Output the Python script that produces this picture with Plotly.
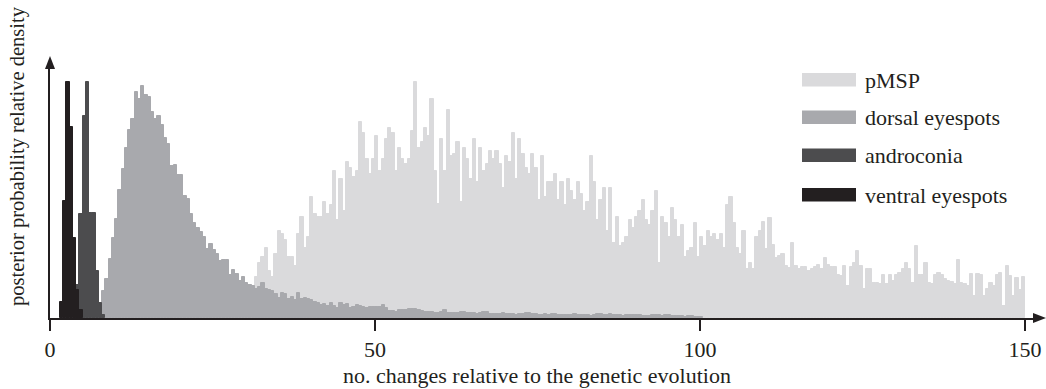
import plotly.graph_objects as go

# ---------------- data (relative density per 0.5-wide bin) ----------------
bin_width = 0.5

ventral_start = 1.5
ventral_density = [16, 117, 236, 191, 80, 28, 8]

androconia_start = 4.0
androconia_density = [33, 104, 202, 236, 105, 105, 47, 15, 3]

dorsal_start = 8.0
dorsal_density = [
    27, 39, 59, 80, 99, 128, 149, 170, 188, 199, 226, 219, 232, 223, 221, 206,
    199, 202, 193, 180, 174, 152, 153, 143, 143, 122, 119, 104, 95, 90, 86, 81,
    69, 74, 68, 64, 57, 58, 58, 43, 48, 44, 37, 41, 35, 33, 32,
    29, 31, 35, 29, 28, 27, 24, 20, 25, 24, 19, 21, 18, 25, 19, 20, 19, 18, 16,
    15, 13, 14, 12, 15, 12, 10, 15, 13, 14, 10, 11, 13, 12, 11, 10, 11, 11,
    11, 11, 13, 10, 7, 7, 6, 8, 8, 8, 9, 9, 9, 8, 7, 6, 6, 6, 5, 5, 6, 8, 5, 5,
    5, 5, 6, 6, 5, 5, 5, 4, 5, 6, 6, 4, 4, 4,
    4, 5, 4, 4, 4, 3, 4, 4, 5, 5, 4, 4, 3, 3, 4, 3, 4, 4, 3, 3, 3, 3, 3, 4, 3,
    3, 3, 3, 2, 3, 4, 4, 3, 3, 4, 3, 3, 3, 2, 3,
    3, 3, 3, 3, 2, 2, 2, 3, 3, 3, 2, 3, 3, 2, 2, 2, 2, 1, 2, 2, 1, 1, 1,
]

pmsp_start = 31.5
pmsp_density = [
    41, 55, 61, 70, 47, 41, 64, 87, 84, 78, 61, 61, 52, 84, 101, 70, 81, 121,
    104, 101, 101, 116, 104, 113, 147, 98, 139, 107, 156, 150, 141, 147, 196,
    185, 159, 144, 159, 182,
    147, 159, 179, 190, 185, 147, 170, 159, 154, 159, 187, 236, 170, 176, 190,
    182, 219, 147, 114, 179, 147, 208, 162, 164, 176, 116, 170, 159, 139, 179,
    136, 170, 147, 154, 167, 159, 167, 154, 130,
    162, 156, 185, 139, 179, 164, 150, 144, 164, 150, 118, 162, 121, 136, 136,
    144, 118, 136, 113, 139, 127, 118, 136, 124, 107, 116, 162, 136, 98, 118,
    130, 87, 130, 75, 101, 72, 75, 81,
    98, 90, 101, 107, 118, 98, 93, 107, 127, 55, 101, 95, 81, 110, 98, 81, 93,
    61, 67, 70, 95, 61, 81, 72, 87, 81, 84, 78, 84, 70, 113, 121, 95, 70, 64,
    87, 49, 55, 49,
    81, 87, 96, 69, 100, 73, 60, 62, 64, 52, 50, 75, 52, 49, 51, 51, 47, 49, 51,
    53, 49, 60, 53, 51, 51, 43, 42, 52, 32, 51, 55, 67, 52, 29, 49, 49, 35, 35,
    34, 43,
    34, 43, 37, 43, 45, 49, 55, 49, 35, 72, 43, 43, 55, 35, 34, 43, 45, 43, 39,
    37, 36, 34, 58, 35, 34, 32, 44, 22, 44, 43, 22, 29, 35, 32, 43, 45, 12, 52,
    42, 22, 40, 28, 41,
]

series_names = ["pMSP", "dorsal eyespots", "androconia", "ventral eyespots"]
x_ticks = [0, 50, 100, 150]
x_tick_labels = ["0", "50", "100", "150"]
x_title = "no. changes relative to the genetic evolution"
y_title = "posterior probability relative density"

# ---------------- styling ----------------
colors = ["#dadadc", "#a8a9ad", "#4c4c4e", "#231f20"]
ink = "#231f20"
FONT = "Liberation Serif, Times New Roman, serif"
FS = 22

W, H = 1046, 389
L, R, T, B = 50, 10, 64, 71
PW, PH = W - L - R, H - T - B
PX_PER_UNIT = 6.5
x_max = PW / PX_PER_UNIT
y_max = PH  # one density unit per pixel


def px(xp):
    return (xp - L) / PW


def py(yp):
    return (H - B - yp) / PH


def centers(start, values):
    return [start + bin_width * (k + 0.5) for k in range(len(values))]


series = [
    (pmsp_start, pmsp_density),
    (dorsal_start, dorsal_density),
    (androconia_start, androconia_density),
    (ventral_start, ventral_density),
]

fig = go.Figure()
for name, (start, vals), col in zip(series_names, series, colors):
    fig.add_trace(go.Bar(
        x=centers(start, vals), y=vals, width=bin_width, name=name,
        marker=dict(color=col, line=dict(color=col, width=1.0)),
        showlegend=False, hoverinfo="x+y+name",
    ))

shapes = []
annotations = []

# custom legend
leg_x0, leg_x1, leg_tx = 802, 856, 863
leg_y = [73, 110.5, 148.5, 188]
for name, col, y0 in zip(series_names, colors, leg_y):
    shapes.append(dict(type="rect", xref="paper", yref="paper",
                       x0=px(leg_x0), x1=px(leg_x1), y0=py(y0 + 13.5), y1=py(y0),
                       fillcolor=col, line=dict(width=0)))
    annotations.append(dict(xref="paper", yref="paper", x=px(leg_tx), y=py(y0 + 7),
                            text=name, showarrow=False, xanchor="left", yanchor="middle",
                            font=dict(family=FONT, size=FS, color=ink)))

# axis arrowheads
shapes.append(dict(type="path", xref="paper", yref="paper",
                   path=f"M {px(1033)},{py(313)} L {px(1046)},{py(318)} L {px(1033)},{py(323)} Z",
                   fillcolor=ink, line=dict(width=0)))
shapes.append(dict(type="path", xref="paper", yref="paper",
                   path=f"M {px(45)},{py(69)} L {px(50)},{py(56)} L {px(55)},{py(69)} Z",
                   fillcolor=ink, line=dict(width=0)))

# axis titles
annotations.append(dict(xref="paper", yref="paper", x=px(537), y=py(375), text=x_title,
                        showarrow=False, xanchor="center", yanchor="middle",
                        font=dict(family=FONT, size=FS, color=ink)))
annotations.append(dict(xref="paper", yref="paper", x=px(17), y=py(156), text=y_title,
                        showarrow=False, xanchor="center", yanchor="middle", textangle=-90,
                        font=dict(family=FONT, size=20.5, color=ink)))

fig.update_layout(
    width=W, height=H, autosize=False,
    margin=dict(l=L, r=R, t=T, b=B, pad=0),
    paper_bgcolor="white", plot_bgcolor="white",
    barmode="overlay", bargap=0,
    shapes=shapes, annotations=annotations,
    xaxis=dict(range=[0, x_max], showgrid=False, zeroline=False, automargin=False,
               showline=True, linecolor=ink, linewidth=2,
               ticks="outside", ticklen=11, tickwidth=1.5, tickcolor=ink,
               tickvals=x_ticks, ticktext=x_tick_labels,
               tickfont=dict(family=FONT, size=FS, color=ink)),
    yaxis=dict(range=[0, y_max], showgrid=False, zeroline=False, automargin=False,
               showline=True, linecolor=ink, linewidth=1.5,
               showticklabels=False, ticks=""),
)

# remove the default 8px page margin so the 1046x389 figure fills the window exactly
fig.write_html("out.html", config={"displayModeBar": False},
               post_script="document.body.style.margin='0px';document.body.style.overflow='hidden';")
